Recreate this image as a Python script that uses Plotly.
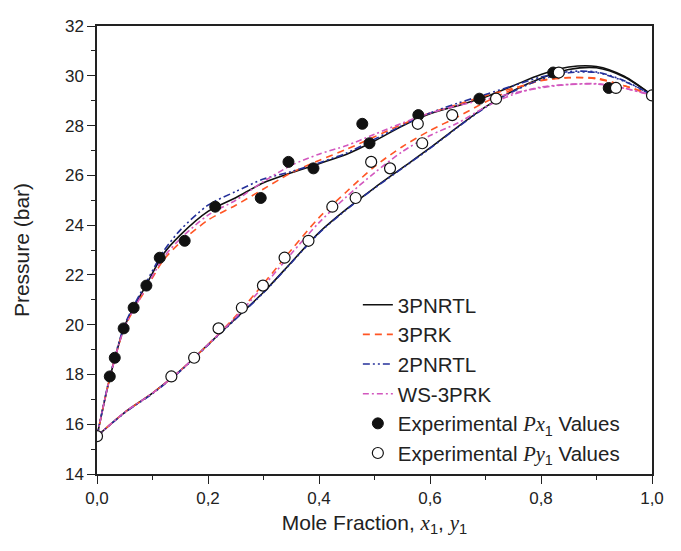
import plotly.graph_objects as go

# ---------------- data ----------------
# experimental points (pressure in bar)
exp_P = [17.92, 18.67, 19.85, 20.68, 21.57, 22.69, 23.37, 24.74, 25.09, 26.54,
         26.28, 28.07, 27.29, 28.42, 29.08, 30.13, 29.51]
exp_x1 = [0.023, 0.032, 0.048, 0.066, 0.089, 0.113, 0.158, 0.213, 0.295, 0.345,
          0.390, 0.478, 0.491, 0.579, 0.689, 0.822, 0.922]
exp_y1 = [0.134, 0.175, 0.219, 0.261, 0.299, 0.338, 0.381, 0.424, 0.466, 0.494,
          0.528, 0.578, 0.586, 0.640, 0.719, 0.832, 0.935]
pure_comp = [0.0, 1.0]
pure_P = [15.52, 29.21]

# model curves: bubble (P-x1) and dew (P-y1)
bub_x = [0, 0.023, 0.05, 0.09, 0.12, 0.15, 0.2, 0.25, 0.3, 0.35, 0.4, 0.45, 0.5,
         0.55, 0.6, 0.65, 0.7, 0.75, 0.8, 0.85, 0.9, 0.95, 1.0]
dew_y = [0, 0.05, 0.1, 0.15, 0.2, 0.25, 0.3, 0.35, 0.4, 0.45, 0.5, 0.55, 0.6,
         0.65, 0.7, 0.75, 0.8, 0.85, 0.9, 0.95, 1.0]

nrtl3_bub = [15.52, 17.85, 19.95, 21.65, 22.85, 23.6, 24.55, 25.1, 25.7, 26.1, 26.47,
             26.85, 27.38, 27.98, 28.47, 28.8, 29.15, 29.6, 30.05, 30.35, 30.37, 29.98, 29.22]
nrtl3_dew = [15.52, 16.48, 17.25, 18.15, 19.2, 20.25, 21.3, 22.5, 23.7, 24.65, 25.5,
             26.3, 27.1, 27.95, 28.75, 29.4, 29.9, 30.25, 30.32, 29.95, 29.22]

prk3_bub = [15.52, 17.85, 19.9, 21.5, 22.6, 23.3, 24.2, 24.8, 25.45, 26.1, 26.6,
            27.05, 27.55, 28.05, 28.5, 28.85, 29.2, 29.5, 29.8, 29.92, 29.9, 29.6, 29.22]
prk3_dew = [15.52, 16.48, 17.25, 18.15, 19.2, 20.35, 21.65, 23.0, 24.3, 25.35, 26.35,
            27.15, 27.8, 28.35, 28.95, 29.45, 29.82, 29.93, 29.88, 29.6, 29.22]

nrtl2_bub = [15.52, 17.9, 20.0, 21.75, 22.95, 23.8, 24.8, 25.35, 25.85, 26.15, 26.5,
             26.9, 27.45, 28.0, 28.5, 28.9, 29.25, 29.6, 29.95, 30.17, 30.15, 29.8, 29.22]
nrtl2_dew = [15.52, 16.46, 17.23, 18.13, 19.18, 20.23, 21.28, 22.48, 23.68, 24.63, 25.48,
             26.28, 27.08, 27.93, 28.73, 29.37, 29.85, 30.12, 30.13, 29.78, 29.22]

ws3prk_bub = [15.52, 17.85, 19.9, 21.55, 22.7, 23.45, 24.4, 25.0, 25.75, 26.4, 26.85,
              27.2, 27.65, 28.1, 28.5, 28.8, 29.05, 29.3, 29.52, 29.65, 29.68, 29.5, 29.22]
ws3prk_dew = [15.52, 16.48, 17.25, 18.15, 19.2, 20.3, 21.55, 22.85, 24.1, 25.15, 26.1,
              26.95, 27.6, 28.1, 28.75, 29.25, 29.55, 29.65, 29.67, 29.5, 29.22]

x_ticks = [0.0, 0.2, 0.4, 0.6, 0.8, 1.0]
y_ticks = [14, 16, 18, 20, 22, 24, 26, 28, 30, 32]

# ---------------- figure ----------------
FONT = "Liberation Sans, Arial, sans-serif"

models = [
    ("3PNRTL", nrtl3_bub, nrtl3_dew, dict(color="#111111", width=1.6, dash="solid")),
    ("3PRK", prk3_bub, prk3_dew, dict(color="#FF5524", width=1.6, dash="7px,5px")),
    ("2PNRTL", nrtl2_bub, nrtl2_dew, dict(color="#24309A", width=1.6, dash="7px,3px,2px,3px,2px,3px")),
    ("WS-3PRK", ws3prk_bub, ws3prk_dew, dict(color="#D257BE", width=1.6, dash="6px,3px,2px,3px")),
]

fig = go.Figure()
for name, bub, dew, line in models:
    fig.add_trace(go.Scatter(x=bub_x, y=bub, mode="lines", name=name, legendgroup=name,
                             line=dict(shape="spline", smoothing=0.8, **line)))
    fig.add_trace(go.Scatter(x=dew_y, y=dew, mode="lines", name=name, legendgroup=name,
                             showlegend=False,
                             line=dict(shape="spline", smoothing=0.8, **line)))

px_label = ("Experimental <span style='font-family:Liberation Serif'><i>Px</i></span>"
            "<sub>1</sub> Values")
py_label = ("Experimental <span style='font-family:Liberation Serif'><i>Py</i></span>"
            "<sub>1</sub> Values")

fig.add_trace(go.Scatter(x=exp_x1, y=exp_P, mode="markers", name=px_label,
                         marker=dict(symbol="circle", size=11, color="#111111",
                                     line=dict(color="#111111", width=1))))
fig.add_trace(go.Scatter(x=exp_y1 + pure_comp, y=exp_P + pure_P, mode="markers", name=py_label,
                         marker=dict(symbol="circle", size=11, color="white",
                                     line=dict(color="#111111", width=1.2))))

axis_common = dict(
    showline=True, linecolor="#222222", linewidth=1.5, mirror=True,
    ticks="outside", ticklen=8, tickwidth=1.3, tickcolor="#222222",
    showgrid=False, zeroline=False,
    tickfont=dict(family=FONT, size=17, color="#222222"),
)

fig.update_xaxes(range=[0, 1], tickvals=x_ticks, tickformat=".1f",
                 minor=dict(dtick=0.1, ticks="outside", ticklen=4, tickwidth=1.3,
                            tickcolor="#222222", showgrid=False),
                 title=dict(text="Mole Fraction, <span style='font-family:Liberation Serif'><i>x</i></span><sub>1</sub>, "
                                 "<span style='font-family:Liberation Serif'><i>y</i></span><sub>1</sub>",
                            font=dict(family=FONT, size=21, color="#222222"), standoff=8),
                 **axis_common)
fig.update_yaxes(range=[14, 32], tickvals=y_ticks,
                 minor=dict(dtick=1, ticks="outside", ticklen=4, tickwidth=1.3,
                            tickcolor="#222222", showgrid=False),
                 title=dict(text="Pressure (bar)",
                            font=dict(family=FONT, size=21, color="#222222"), standoff=30),
                 **axis_common)

# the page adds an 8px body margin, so the figure is sized/offset to compensate
fig.update_layout(
    width=665, height=535,
    margin=dict(l=89, r=17, t=9, b=69),
    paper_bgcolor="white", plot_bgcolor="white",
    separators=",.",
    font=dict(family=FONT, color="#222222"),
    legend=dict(x=0.47, y=0.422, xanchor="left", yanchor="top",
                bgcolor="rgba(0,0,0,0)", borderwidth=0,
                font=dict(family=FONT, size=20.5, color="#222222"),
                tracegroupgap=0, itemwidth=30),
    showlegend=True,
)

fig.write_html("out.html")
